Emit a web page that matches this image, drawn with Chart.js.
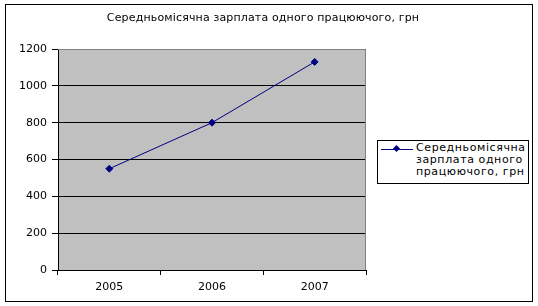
<!DOCTYPE html>
<html>
<head>
<meta charset="utf-8">
<script src="https://cdn.jsdelivr.net/npm/chart.js@4"></script>
<style>
  body { margin: 0; background: #fff; }
  #wrap { position: relative; width: 538px; height: 306px; }
  #legend {
    position: absolute; left: 377px; top: 140px; width: 150px; height: 42px;
    border: 1px solid #000; background: #fff;
    font: 11px "DejaVu Sans"; color: #000; letter-spacing: 0.6px;
  }
  #legend .swatch { position: absolute; left: 3px; top: 8px; width: 32px; height: 1px; background: #000080; }
  #legend .swatch i { position: absolute; left: 13px; top: -3px; width: 5px; height: 5px; background: #000080; transform: rotate(45deg); }
  #legend .txt { position: absolute; left: 38px; top: 1px; line-height: 12px; white-space: pre; }
</style>
</head>
<body>
<div id="wrap">
  <canvas id="c" width="538" height="306"></canvas>
  <div id="legend"><span class="swatch"><i></i></span><span class="txt" id="legtxt"></span></div>
</div>
<script>
const chartTitle = "Середньомісячна зарплата одного працюючого, грн";
const seriesName = ["Середньомісячна", "зарплата одного", "працюючого, грн"];
const years = ["2005", "2006", "2007"];
const salary = [550, 800, 1130];

Chart.defaults.font.family = "DejaVu Sans";
Chart.defaults.font.size = 11;
Chart.defaults.color = "#000";

document.getElementById("legtxt").textContent = seriesName.join("\n");

// grey plot background, grey top/right border, outer frame and title
const frame = {
  id: "frame",
  beforeDraw(chart) {
    const { ctx, chartArea: a } = chart;
    ctx.save();
    ctx.fillStyle = "#c0c0c0";
    ctx.fillRect(a.left, a.top, a.right - a.left, a.bottom - a.top);
    ctx.restore();
  },
  afterDraw(chart) {
    const { ctx, chartArea: a } = chart;
    ctx.save();
    ctx.strokeStyle = "#808080";
    ctx.lineWidth = 1;
    ctx.beginPath();
    ctx.moveTo(a.left, Math.round(a.top) + 0.5);
    ctx.lineTo(Math.round(a.right) - 0.5, Math.round(a.top) + 0.5);
    ctx.lineTo(Math.round(a.right) - 0.5, a.bottom);
    ctx.stroke();
    ctx.strokeStyle = "#000";
    ctx.strokeRect(5.5, 4.5, 527, 297);
    ctx.fillStyle = "#000";
    ctx.font = "11px 'DejaVu Sans'";
    ctx.letterSpacing = "0.15px";
    ctx.textAlign = "center";
    ctx.textBaseline = "middle";
    ctx.fillText(chartTitle, 263, 18);
    ctx.restore();
  }
};

new Chart(document.getElementById("c"), {
  type: "line",
  data: {
    labels: years,
    datasets: [{
      label: seriesName.join(" "),
      data: salary,
      borderColor: "#000080",
      backgroundColor: "#000080",
      borderWidth: 1,
      pointStyle: "rectRot",
      pointRadius: 3.5,
      tension: 0
    }]
  },
  options: {
    responsive: false,
    animation: false,
    layout: { padding: { left: 0, right: 172, top: 49, bottom: 0 } },
    plugins: { legend: { display: false }, title: { display: false }, tooltip: { enabled: false } },
    scales: {
      x: {
        offset: true,
        grid: { offset: true, drawOnChartArea: false, color: "#000", tickLength: 5 },
        border: { color: "#000" },
        ticks: { padding: 6 },
        afterFit(s) { s.height = 36; }
      },
      y: {
        min: 0, max: 1200,
        ticks: { stepSize: 200, padding: 5, callback: (v) => String(v) },
        grid: { color: "#000", tickLength: 6 },
        border: { color: "#000" },
        afterFit(s) { s.width = 58; }
      }
    }
  },
  plugins: [frame]
});
</script>
</body>
</html>
